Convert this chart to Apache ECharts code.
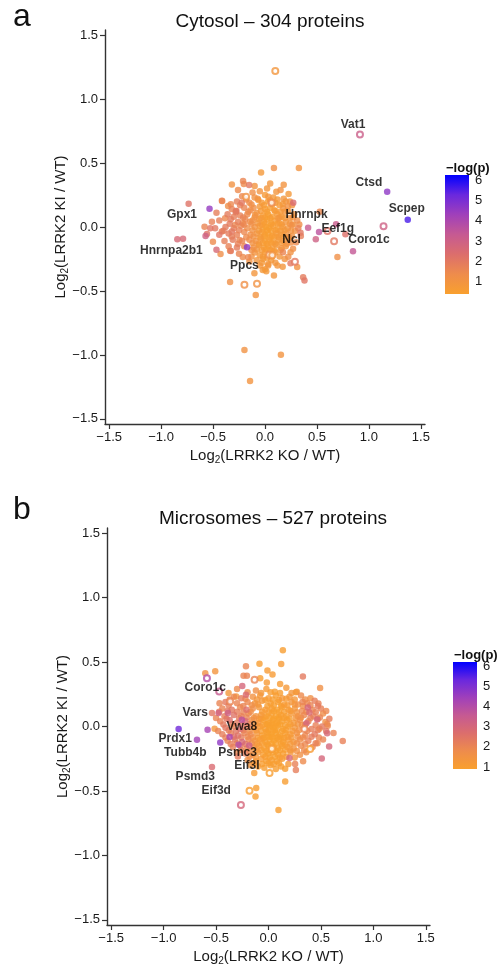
<!DOCTYPE html>
<html><head><meta charset="utf-8">
<script src="https://cdn.jsdelivr.net/npm/echarts@6/dist/echarts.min.js"></script>
<style>html,body{margin:0;padding:0;background:#fff}#c{width:501px;height:969px}</style>
</head><body><div id="c"></div>
<script>
// ---- data: [log2(KO/WT), log2(KI/WT), -log(p)] ----
const cytoFilled = [
[1.176,0.276,4.6],[1.374,0.057,5.6],[0.847,-0.19,3.4],[0.684,0.021,3.2],[0.774,-0.057,2.3],[0.52,-0.039,3.6],[0.489,-0.096,3.0],[0.697,-0.234,1.2],[0.415,-0.005,3.3],[0.342,-0.044,2.0],[0.527,0.12,1.5],[0.272,0.19,2.5],
[-0.534,0.143,4.5],[-0.735,0.182,2.2],[-0.844,-0.096,2.6],[-0.789,-0.091,2.6],[-0.173,-0.159,4.6],[-0.467,-0.177,2.6],[-0.428,-0.211,1.3],[-0.336,-0.43,1.2],[-0.089,-0.531,1.0],[-0.102,-0.362,0.9],[0.012,-0.346,0.8],[0.086,-0.38,0.9],[0.17,-0.31,0.9],[0.31,-0.313,1.1],[0.367,-0.393,1.9],[0.38,-0.419,2.1],[0.246,-0.284,2.0],[0.246,-0.198,1.1],
[-0.038,0.427,0.8],[0.086,0.461,1.2],[0.326,0.461,1.0],[-0.319,0.333,1.1],[-0.211,0.359,1.6],[-0.204,0.336,1.4],[-0.153,0.328,2.0],[0.109,0.276,0.9],[0.227,0.258,0.8],[-0.412,0.203,1.5],[-0.355,0.164,1.3],[-0.275,0.125,2.0],[-0.467,0.112,1.8],[-0.527,-0.01,2.1],[-0.572,-0.07,3.0],[-0.329,-0.188,2.0],[-0.214,-0.234,1.4],[-0.163,-0.237,1.5],[0.173,-0.198,1.6],
[-0.198,-0.961,1.1],[0.153,-0.998,1.0],[-0.144,-1.203,1.0],
[-0.415,0.206,1.6],[-0.329,0.177,1.5],[-0.224,0.19,2.0],[-0.281,0.115,1.9],[-0.16,0.12,1.4],[-0.384,0.068,1.5],[-0.511,0.041,1.7],[-0.582,0.002,1.6],[-0.559,-0.055,2.2],[-0.501,-0.115,1.4],[-0.336,-0.185,1.3],[-0.246,-0.102,1.6],[-0.415,-0.036,1.7],[-0.319,-0.036,2.0],[-0.288,0.016,1.5],[-0.214,0.029,1.4],[-0.144,0.041,1.3],[-0.096,0.094,1.0],[0.032,0.237,0.9],[-0.064,0.211,0.8],[0.176,0.146,0.9],[0.128,0.068,0.9],[0.256,0.016,1.2],[0.32,-0.01,1.6],[0.345,-0.07,1.8],[0.249,-0.122,1.2],[0.16,-0.167,1.0],[0.224,-0.232,1.3],[0.032,-0.289,0.9],[-0.022,-0.336,0.8]
];
const cytoCore = [
[-0.05,0.28,1.0],[0.02,0.3,0.9],[0.15,0.29,1.1],[-0.12,0.27,1.2],[-0.1,0.32,1.0],[0.05,0.34,0.9],[0.18,0.33,1.0],[-0.26,0.29,1.4],
[-0.22,0.24,1.5],[-0.1,0.23,1.1],[0.0,0.25,0.7],[0.08,0.23,0.8],[0.18,0.22,0.9],[0.24,0.2,1.0],
[-0.27,0.2,1.8],[-0.15,0.19,1.3],[-0.03,0.19,0.7],[0.03,0.2,0.6],[0.1,0.19,0.8],[0.14,0.17,0.7],[0.22,0.16,1.1],
[-0.32,0.14,1.7],[-0.2,0.15,1.6],[-0.11,0.15,1.2],[-0.05,0.16,0.8],[0.0,0.14,0.6],[0.05,0.15,0.5],[0.09,0.13,0.7],[0.19,0.12,0.9],[0.28,0.1,1.0],
[-0.36,0.1,1.9],[-0.24,0.09,1.7],[-0.17,0.1,1.4],[-0.08,0.11,1.0],[-0.02,0.09,0.6],[0.03,0.1,0.5],[0.07,0.08,0.6],[0.12,0.1,0.7],[0.16,0.08,0.8],[0.24,0.07,1.0],[0.31,0.05,1.3],
[-0.44,0.05,1.8],[-0.33,0.06,1.9],[-0.26,0.04,1.8],[-0.19,0.06,1.5],[-0.12,0.05,1.1],[-0.06,0.06,0.8],[-0.01,0.04,0.6],[0.02,0.06,0.5],[0.06,0.03,0.5],[0.1,0.05,0.6],[0.14,0.03,0.7],[0.2,0.04,0.9],[0.27,0.02,1.0],
[-0.48,-0.01,2.0],[-0.38,0.0,1.9],[-0.3,-0.01,1.8],[-0.23,0.01,1.6],[-0.17,-0.01,1.3],[-0.1,0.0,1.0],[-0.05,0.01,0.7],[-0.02,-0.02,0.5],[0.01,0.0,0.4],[0.04,-0.01,0.5],[0.08,0.01,0.6],[0.12,-0.02,0.6],[0.17,0.0,0.8],[0.22,-0.01,0.9],[0.29,-0.03,1.1],
[-0.44,-0.06,2.1],[-0.35,-0.05,1.9],[-0.27,-0.06,1.7],[-0.2,-0.04,1.5],[-0.14,-0.06,1.2],[-0.08,-0.05,0.9],[-0.03,-0.04,0.6],[0.0,-0.06,0.5],[0.03,-0.05,0.5],[0.07,-0.07,0.6],[0.11,-0.05,0.7],[0.15,-0.06,0.8],[0.2,-0.05,0.9],[0.26,-0.07,1.1],
[-0.39,-0.11,1.8],[-0.31,-0.1,1.9],[-0.22,-0.11,1.6],[-0.15,-0.1,1.3],[-0.09,-0.11,1.0],[-0.04,-0.09,0.7],[0.0,-0.11,0.5],[0.04,-0.1,0.6],[0.08,-0.12,0.6],[0.13,-0.1,0.8],[0.18,-0.11,0.9],[0.23,-0.09,1.0],[0.3,-0.12,1.4],
[-0.35,-0.15,1.7],[-0.27,-0.16,1.9],[-0.2,-0.15,1.5],[-0.11,-0.16,1.1],[-0.06,-0.14,0.8],[-0.01,-0.16,0.6],[0.03,-0.15,0.6],[0.07,-0.17,0.7],[0.11,-0.14,0.8],[0.2,-0.15,1.0],[0.27,-0.17,1.2],
[-0.25,-0.21,1.6],[-0.1,-0.2,1.0],[-0.05,-0.22,0.8],[0.0,-0.2,0.7],[0.04,-0.21,0.7],[0.1,-0.2,0.8],[0.14,-0.23,0.9],
[-0.15,-0.27,1.1],[-0.08,-0.26,0.9],[-0.02,-0.25,0.8],[0.06,-0.26,0.8],[0.1,-0.28,0.9],[0.19,-0.25,1.0],[0.12,-0.3,0.9],[-0.05,-0.3,0.9],
[0.0,-0.33,0.8],[0.03,-0.3,0.9],[-0.03,-0.28,0.8]
];
const cytoCore2 = [
[-0.18,0.215,1.4],[-0.07,0.22,1.0],[0.05,0.21,0.7],[0.12,0.215,0.8],[0.2,0.2,0.9],
[-0.24,0.17,1.7],[-0.13,0.175,1.2],[-0.01,0.17,0.6],[0.07,0.175,0.6],[0.17,0.18,0.8],[0.26,0.17,1.0],
[-0.28,0.125,1.8],[-0.14,0.13,1.3],[-0.04,0.125,0.7],[0.02,0.12,0.5],[0.1,0.125,0.6],[0.15,0.12,0.7],[0.22,0.125,0.9],
[-0.3,0.08,1.8],[-0.21,0.075,1.6],[-0.1,0.075,1.1],[-0.04,0.07,0.7],[0.0,0.075,0.5],[0.05,0.07,0.5],[0.14,0.075,0.7],[0.19,0.07,0.8],[0.27,0.075,1.0],
[-0.34,0.025,1.9],[-0.2,0.02,1.5],[-0.13,0.025,1.2],[-0.07,0.03,0.9],[-0.03,0.02,0.6],[0.0,0.025,0.5],[0.06,0.02,0.5],[0.12,0.025,0.6],[0.16,0.02,0.7],[0.24,0.025,0.9],[0.33,0.02,1.3],
[-0.4,-0.03,1.9],[-0.25,-0.025,1.7],[-0.12,-0.025,1.1],[-0.06,-0.03,0.8],[0.02,-0.025,0.5],[0.06,-0.03,0.5],[0.1,-0.025,0.6],[0.15,-0.03,0.7],[0.19,-0.025,0.8],[0.25,-0.03,1.0],
[-0.32,-0.075,1.8],[-0.18,-0.08,1.4],[-0.11,-0.075,1.1],[-0.05,-0.08,0.8],[-0.01,-0.075,0.5],[0.05,-0.08,0.5],[0.09,-0.075,0.6],[0.13,-0.08,0.7],[0.18,-0.075,0.8],[0.23,-0.08,1.0],
[-0.26,-0.13,1.7],[-0.12,-0.125,1.1],[-0.06,-0.13,0.8],[-0.02,-0.125,0.6],[0.02,-0.13,0.5],[0.06,-0.125,0.6],[0.1,-0.13,0.7],[0.16,-0.125,0.8],[0.21,-0.13,1.0],
[-0.13,-0.18,1.2],[-0.08,-0.175,0.9],[-0.03,-0.18,0.7],[0.01,-0.175,0.6],[0.05,-0.18,0.6],[0.09,-0.185,0.7],[0.15,-0.18,0.9],
[-0.13,-0.23,1.1],[-0.02,-0.23,0.7],[0.02,-0.24,0.7],[0.07,-0.23,0.8]
];
const cytoOpen = [
[0.099,1.219,0.9],[0.914,0.724,3.1],[1.141,0.005,3.0],[0.601,-0.031,2.2],[0.665,-0.112,2.0],[-0.198,-0.451,1.2],[-0.077,-0.443,1.1],[0.288,-0.271,2.0],[0.041,-0.216,1.2],[-0.182,0.237,1.1],[0.064,0.19,1.4],[0.07,-0.22,1.0]
];
const cytoLabels = [
['Vat1',0.847,0.797],['Ctsd',1.0,0.349],['Scpep',1.365,0.146],['Coro1c',1.0,-0.096],['Eef1g',0.7,-0.01],['Hnrnpk',0.4,0.099],['Ncl',0.256,-0.096],['Gpx1',-0.799,0.094],['Hnrnpa2b1',-0.901,-0.185],['Ppcs',-0.198,-0.302]
];

const microFilled = [
[0.137,0.592,1.0],[0.121,0.484,1.1],[-0.086,0.486,1.0],[-0.215,0.468,2.0],[-0.01,0.434,1.1],[0.038,0.403,1.1],[-0.508,0.429,1.4],[-0.603,0.414,1.6],[-0.238,0.393,2.0],[-0.206,0.393,2.0],[0.328,0.388,2.3],[-0.079,0.375,1.0],[-0.016,0.341,1.1],[0.111,0.329,1.1],[0.492,0.298,1.6],[-0.25,0.315,3.0],[-0.381,0.259,1.3],[-0.308,0.233,1.4],[-0.215,0.246,2.8],[-0.467,0.181,2.0],[-0.476,0.104,3.2],[-0.539,0.104,2.4],[-0.387,0.104,3.3],
[-0.857,-0.02,5.2],[-0.682,-0.103,4.4],[-0.581,-0.026,4.3],[-0.514,-0.018,1.3],[-0.46,-0.124,4.7],[-0.539,-0.315,2.8],[-0.286,-0.142,4.0],[-0.254,0.052,3.8],[-0.371,-0.082,4.2],[-0.184,-0.147,3.3],[-0.292,-0.233,2.3],
[-0.117,-0.478,1.0],[-0.124,-0.543,1.0],[-0.136,-0.361,1.1],[0.159,-0.426,1.0],[0.095,-0.648,1.0],
[0.261,0.266,1.1],[0.476,0.178,2.1],[0.324,0.191,2.0],[0.375,0.147,3.0],[0.39,0.109,2.8],[0.464,0.054,3.0],[0.543,0.034,1.6],[0.565,0.005,1.9],[0.486,-0.018,1.6],[0.559,-0.052,2.9],[0.708,-0.113,2.1],[0.578,-0.155,3.0],[0.467,-0.129,1.8],[0.508,-0.248,3.0],[0.2,-0.245,3.0],[0.254,-0.291,2.1],[0.261,-0.338,2.2],[0.159,-0.328,1.0],[0.362,0.026,3.0]
];
const microCore = [
[-0.12,0.28,1.6],[-0.02,0.29,1.1],[0.06,0.27,1.0],[0.17,0.3,1.2],[0.22,0.26,1.3],[-0.3,0.29,1.8],
[-0.33,0.23,1.9],[-0.26,0.22,2.2],[-0.15,0.23,1.5],[-0.08,0.24,1.3],[0.0,0.22,1.1],[0.07,0.24,1.0],[0.13,0.22,1.2],[0.2,0.23,1.3],[0.31,0.24,1.8],[0.4,0.22,1.6],
[-0.41,0.19,2.3],[-0.3,0.18,2.0],[-0.2,0.19,1.9],[-0.13,0.18,1.4],[-0.06,0.2,1.2],[0.02,0.18,1.0],[0.09,0.19,1.0],[0.15,0.17,1.1],[0.22,0.19,1.3],[0.28,0.17,1.5],[0.37,0.18,1.9],[0.44,0.2,2.2],
[-0.44,0.14,2.0],[-0.35,0.13,2.4],[-0.27,0.15,1.9],[-0.21,0.13,2.6],[-0.15,0.14,1.7],[-0.09,0.15,1.3],[-0.03,0.13,1.1],[0.03,0.14,1.0],[0.08,0.13,0.95],[0.13,0.15,1.0],[0.19,0.13,1.1],[0.25,0.14,1.3],[0.32,0.12,1.8],[0.42,0.13,2.0],[0.5,0.14,2.1],
[-0.42,0.08,2.2],[-0.33,0.09,2.5],[-0.26,0.08,2.1],[-0.19,0.1,1.8],[-0.12,0.08,1.4],[-0.07,0.09,1.2],[-0.02,0.08,1.0],[0.03,0.1,0.95],[0.07,0.08,0.9],[0.12,0.09,1.0],[0.17,0.08,1.0],[0.22,0.1,1.2],[0.28,0.08,1.5],[0.34,0.09,1.9],[0.43,0.08,2.2],[0.52,0.1,1.7],
[-0.46,0.04,2.1],[-0.37,0.05,2.6],[-0.3,0.03,2.3],[-0.22,0.04,2.8],[-0.16,0.05,1.6],[-0.1,0.03,1.3],[-0.05,0.05,1.0],[0.0,0.03,0.95],[0.04,0.05,0.9],[0.08,0.03,0.9],[0.13,0.04,0.95],[0.18,0.05,1.0],[0.24,0.03,1.2],[0.3,0.05,1.6],[0.38,0.04,2.0],[0.47,0.06,1.9],
[-0.41,-0.01,2.4],[-0.33,0.0,2.0],[-0.27,-0.02,2.7],[-0.2,0.0,2.2],[-0.14,-0.01,1.5],[-0.08,0.0,1.1],[-0.03,-0.02,1.0],[0.01,0.0,0.9],[0.05,-0.01,0.9],[0.09,0.01,0.9],[0.14,-0.02,0.95],[0.19,0.0,1.0],[0.25,-0.01,1.3],[0.32,0.01,1.7],[0.41,-0.02,2.2],[0.51,0.0,2.3],
[-0.44,-0.06,2.2],[-0.36,-0.05,2.1],[-0.29,-0.07,2.5],[-0.23,-0.05,2.0],[-0.17,-0.06,1.8],[-0.11,-0.05,1.3],[-0.06,-0.07,1.0],[-0.01,-0.05,0.95],[0.03,-0.06,0.9],[0.07,-0.05,0.9],[0.11,-0.07,0.95],[0.16,-0.05,1.0],[0.21,-0.06,1.1],[0.27,-0.05,1.5],[0.35,-0.07,1.9],[0.44,-0.06,2.3],[0.62,-0.05,2.0],
[-0.39,-0.11,2.0],[-0.32,-0.1,2.3],[-0.25,-0.12,2.9],[-0.19,-0.1,1.9],[-0.13,-0.11,1.3],[-0.08,-0.1,1.1],[-0.03,-0.12,1.0],[0.01,-0.1,0.9],[0.05,-0.11,0.9],[0.1,-0.1,0.95],[0.14,-0.12,1.0],[0.19,-0.1,1.1],[0.24,-0.12,1.3],[0.3,-0.1,1.7],[0.38,-0.11,2.1],[0.52,-0.1,2.0],
[-0.34,-0.16,2.1],[-0.27,-0.15,2.4],[-0.21,-0.17,1.8],[-0.14,-0.16,1.4],[-0.09,-0.15,1.1],[-0.04,-0.17,1.0],[0.0,-0.15,0.95],[0.05,-0.16,0.9],[0.09,-0.17,0.95],[0.13,-0.15,1.0],[0.18,-0.16,1.1],[0.24,-0.17,1.4],[0.31,-0.15,1.8],[0.42,-0.16,2.0],
[-0.3,-0.2,1.9],[-0.22,-0.21,2.2],[-0.15,-0.22,1.5],[-0.1,-0.2,1.2],[-0.05,-0.22,1.0],[0.0,-0.21,0.95],[0.04,-0.2,0.95],[0.09,-0.22,1.0],[0.14,-0.21,1.0],[0.21,-0.2,1.3],[0.3,-0.22,1.6],[0.36,-0.2,1.7],
[-0.2,-0.26,1.6],[-0.12,-0.27,1.2],[-0.07,-0.25,1.1],[-0.02,-0.27,1.0],[0.03,-0.26,1.0],[0.08,-0.27,1.0],[0.13,-0.25,1.1],[0.33,-0.27,1.8],
[-0.1,-0.31,1.1],[-0.04,-0.32,1.0],[0.02,-0.3,1.0],[0.07,-0.33,1.0],[0.12,-0.31,1.0],[-0.17,-0.3,1.4],
[0.0,-0.03,0.9],[0.02,-0.08,0.9],[-0.02,0.02,0.9],[0.06,-0.03,0.9],[0.03,0.02,0.9],[-0.05,-0.09,0.95],[0.08,-0.09,0.9],[0.1,0.06,0.9],[-0.07,0.06,1.0],[0.15,-0.09,1.0]
];
const microCore2 = [
[-0.2,0.265,1.8],[-0.07,0.26,1.2],[0.02,0.265,1.0],[0.11,0.26,1.0],[0.27,0.27,1.3],
[-0.37,0.21,2.0],[-0.22,0.215,1.9],[-0.11,0.21,1.3],[-0.03,0.205,1.0],[0.04,0.21,0.95],[0.1,0.205,1.0],[0.17,0.215,1.1],[0.25,0.21,1.3],[0.35,0.21,1.7],
[-0.38,0.165,2.2],[-0.24,0.16,2.0],[-0.16,0.165,1.6],[-0.1,0.17,1.3],[-0.01,0.16,1.0],[0.05,0.165,0.95],[0.12,0.16,0.95],[0.18,0.165,1.1],[0.25,0.17,1.3],[0.33,0.16,1.7],[0.4,0.165,2.0],[0.47,0.16,2.3],
[-0.47,0.115,2.1],[-0.39,0.12,2.3],[-0.3,0.115,2.2],[-0.24,0.11,2.0],[-0.17,0.115,1.6],[-0.06,0.115,1.1],[0.0,0.11,1.0],[0.05,0.12,0.9],[0.1,0.11,0.9],[0.15,0.115,1.0],[0.21,0.12,1.1],[0.27,0.11,1.4],[0.36,0.115,1.9],[0.45,0.11,2.1],[0.55,0.12,1.9],
[-0.5,0.065,2.0],[-0.4,0.06,2.4],[-0.28,0.065,2.2],[-0.21,0.07,2.0],[-0.14,0.065,1.5],[-0.09,0.06,1.2],[-0.04,0.07,1.0],[0.01,0.065,0.9],[0.05,0.06,0.9],[0.1,0.07,0.9],[0.15,0.065,0.95],[0.2,0.06,1.0],[0.26,0.065,1.3],[0.31,0.07,1.6],[0.4,0.065,2.1],[0.49,0.07,2.0],[0.58,0.06,2.2],
[-0.43,0.015,2.3],[-0.35,0.02,2.1],[-0.25,0.015,2.4],[-0.18,0.02,1.9],[-0.12,0.015,1.3],[-0.06,0.01,1.0],[-0.01,0.015,0.9],[0.03,0.01,0.9],[0.07,0.02,0.9],[0.11,0.015,0.9],[0.16,0.01,0.95],[0.21,0.015,1.0],[0.28,0.02,1.4],[0.35,0.015,1.9],[0.45,0.01,2.1],[0.56,0.02,1.8],
[-0.48,-0.035,2.0],[-0.38,-0.03,2.2],[-0.31,-0.035,2.4],[-0.24,-0.03,2.1],[-0.18,-0.035,1.7],[-0.12,-0.03,1.2],[-0.07,-0.035,1.0],[-0.02,-0.04,0.9],[0.04,-0.035,0.9],[0.08,-0.03,0.9],[0.13,-0.035,0.9],[0.17,-0.03,1.0],[0.23,-0.035,1.2],[0.29,-0.03,1.5],[0.37,-0.035,2.0],[0.47,-0.03,2.2],[0.55,-0.035,2.4],
[-0.41,-0.085,2.1],[-0.33,-0.08,2.6],[-0.26,-0.085,2.2],[-0.2,-0.08,1.9],[-0.15,-0.085,1.5],[-0.1,-0.09,1.1],[-0.04,-0.085,0.95],[0.0,-0.08,0.9],[0.04,-0.085,0.9],[0.09,-0.08,0.9],[0.12,-0.085,0.9],[0.18,-0.08,1.0],[0.22,-0.085,1.2],[0.28,-0.08,1.5],[0.33,-0.085,1.8],[0.41,-0.08,2.2],[0.48,-0.085,2.0],
[-0.36,-0.135,2.2],[-0.3,-0.13,2.0],[-0.22,-0.135,2.4],[-0.16,-0.13,1.7],[-0.11,-0.135,1.2],[-0.06,-0.13,1.0],[-0.01,-0.14,0.9],[0.03,-0.135,0.9],[0.07,-0.13,0.9],[0.12,-0.135,0.95],[0.16,-0.14,1.0],[0.21,-0.135,1.2],[0.27,-0.13,1.5],[0.35,-0.135,1.9],[0.45,-0.13,2.1],
[-0.26,-0.185,2.0],[-0.18,-0.19,1.7],[-0.12,-0.185,1.3],[-0.07,-0.18,1.0],[-0.02,-0.19,0.95],[0.02,-0.185,0.9],[0.07,-0.19,0.9],[0.11,-0.185,0.95],[0.16,-0.18,1.0],[0.21,-0.185,1.2],[0.27,-0.19,1.5],[0.34,-0.185,1.8],
[-0.18,-0.235,1.7],[-0.12,-0.24,1.3],[-0.03,-0.235,1.0],[0.01,-0.24,0.95],[0.06,-0.235,0.95],[0.11,-0.24,1.0],[0.17,-0.235,1.1],[0.25,-0.24,1.4],
[-0.14,-0.285,1.3],[-0.06,-0.29,1.0],[0.0,-0.285,1.0],[0.05,-0.29,1.0],[0.1,-0.285,1.0],[0.19,-0.29,1.2]
];
const microOpen = [
[-0.587,0.375,4.0],[-0.133,0.362,2.0],[-0.47,0.271,3.5],[-0.365,0.194,2.0],[-0.181,-0.498,1.0],[0.01,-0.361,1.0],[-0.263,-0.609,3.0],[0.397,-0.175,1.1],[0.343,-0.02,2.0],[0.032,-0.173,1.1]
];
const microLabels = [
['Coro1c',-0.603,0.302],['Vars',-0.698,0.104],['Prdx1',-0.889,-0.098],['Tubb4b',-0.793,-0.2],['Vwa8',-0.254,0.0],['Psmc3',-0.295,-0.202],['Eif3l',-0.206,-0.305],['Psmd3',-0.698,-0.388],['Eif3d',-0.498,-0.496]
];

const axisTicks = [-1.5,-1.0,-0.5,0.0,0.5,1.0,1.5];
const cbarTicks = [1,2,3,4,5,6];
const cytoRange = [0.4, 6.25];
const microRange = [0.9, 6.2];
const cmap = ['#F9A02E','#EE8C4C','#DC6E6C','#C65A92','#A040BA','#6A28DE','#0000FF'];

// ---- build ----
const FONT = 'Liberation Sans, Arial, Helvetica, sans-serif';
const byP = (a,b)=>a[2]-b[2];
const cytoAll = cytoFilled.concat(cytoCore, cytoCore2).sort(byP);
const microAll = microFilled.concat(microCore, microCore2).sort(byP);

const fmt = v => (v<0?'\u2212':'') + Math.abs(v).toFixed(1);
const nameRich = {a:{fontSize:15,fontFamily:FONT,color:'#1a1a1a'},s:{fontSize:10,fontFamily:FONT,color:'#1a1a1a',padding:[8,0,0,0]}};
function mainX(grid, nameStr){
  return {gridIndex:grid,type:'value',min:-1.54,max:1.54,
    axisLine:{onZero:false,lineStyle:{color:'#333',width:1.4}},
    axisTick:{customValues:axisTicks,length:5,lineStyle:{color:'#333',width:1.2}},
    axisLabel:{customValues:axisTicks,formatter:fmt,color:'#1a1a1a',fontSize:13,fontFamily:FONT,margin:7},
    splitLine:{show:false},
    name:nameStr,nameLocation:'middle',nameGap:23,nameMoveOverlap:false,
    nameTextStyle:{color:'#1a1a1a',fontFamily:FONT,rich:nameRich}
  };
}
function mainY(grid, nameStr){
  return {gridIndex:grid,type:'value',min:-1.54,max:1.54,
    axisLine:{onZero:false,lineStyle:{color:'#333',width:1.4}},
    axisTick:{customValues:axisTicks,length:5,lineStyle:{color:'#333',width:1.2}},
    axisLabel:{customValues:axisTicks,formatter:fmt,color:'#1a1a1a',fontSize:13,fontFamily:FONT,margin:7},
    splitLine:{show:false},
    name:nameStr,nameLocation:'middle',nameGap:35,nameRotate:90,nameMoveOverlap:false,
    nameTextStyle:{color:'#1a1a1a',fontFamily:FONT,rich:nameRich}
  };
}
function cbarY(grid, range, right){
  return {gridIndex:grid,type:'value',min:range[0],max:range[1],position:right?'right':'left',
    axisLine:{show:false},
    axisTick:{show:true,inside:true,customValues:cbarTicks,length:4,lineStyle:{color:'rgba(255,255,255,0.85)',width:1}},
    axisLabel:{show:right,customValues:cbarTicks,color:'#1a1a1a',fontSize:13,fontFamily:FONT,margin:6},
    splitLine:{show:false}};
}
const grad = () => new echarts.graphic.LinearGradient(0,1,0,0, cmap.map((c,i)=>({offset:i/(cmap.length-1),color:c})));
function cbarSeries(xi, yi, range){
  return {type:'scatter',xAxisIndex:xi,yAxisIndex:yi,data:[[0.5,(range[0]+range[1])/2]],symbolSize:0,silent:true,
    itemStyle:{opacity:0},
    markArea:{silent:true,itemStyle:{color:grad()},data:[[{coord:[0,range[0]]},{coord:[1,range[1]]}]]}};
}
function labelSeries(xi, yi, labels){
  return {type:'scatter',xAxisIndex:xi,yAxisIndex:yi,symbolSize:1,itemStyle:{color:'rgba(0,0,0,0)'},z:10,silent:true,
    data:labels.map(l=>({name:l[0],value:[l[1],l[2]]})),
    label:{show:true,position:'inside',formatter:p=>p.name,fontFamily:FONT,fontWeight:'bold',fontSize:12,color:'#000'}};
}
const xName = '{a|Log}{s|2}{a|(LRRK2 KO / WT)}';
const yName = '{a|Log}{s|2}{a|(LRRK2 KI / WT)}';

const option = {
  animation:false,
  backgroundColor:'#fff',
  title:[
    {text:'a',left:8,top:-4,textStyle:{fontSize:32,fontWeight:'normal',fontFamily:FONT,color:'#111'}},
    {text:'Cytosol \u2013 304 proteins',left:265,top:7,textAlign:'center',textStyle:{fontSize:19,fontWeight:'normal',fontFamily:FONT,color:'#111'}},
    {text:'b',left:8,top:489,textStyle:{fontSize:32,fontWeight:'normal',fontFamily:FONT,color:'#111'}},
    {text:'Microsomes \u2013 527 proteins',left:268,top:504,textAlign:'center',textStyle:{fontSize:19,fontWeight:'normal',fontFamily:FONT,color:'#111'}},
    {text:'\u2212log(p)',left:441,top:157,textStyle:{fontSize:13,fontWeight:'bold',fontFamily:FONT,color:'#111'}},
    {text:'\u2212log(p)',left:449,top:644,textStyle:{fontSize:13,fontWeight:'bold',fontFamily:FONT,color:'#111'}}
  ],
  grid:[
    {left:105,top:30,width:320,height:394},
    {left:107,top:528,width:323,height:397},
    {left:445,top:175,width:24,height:119},
    {left:453,top:662,width:24,height:107}
  ],
  xAxis:[
    mainX(0,xName), mainX(1,xName),
    {gridIndex:2,type:'value',min:0,max:1,show:false},
    {gridIndex:3,type:'value',min:0,max:1,show:false}
  ],
  yAxis:[
    mainY(0,yName), mainY(1,yName),
    cbarY(2,cytoRange,true), cbarY(2,cytoRange,false),
    cbarY(3,microRange,true), cbarY(3,microRange,false)
  ],
  visualMap:[
    {type:'continuous',show:false,seriesIndex:[0,1],dimension:2,min:cytoRange[0],max:cytoRange[1],inRange:{color:cmap}},
    {type:'continuous',show:false,seriesIndex:[3,4],dimension:2,min:microRange[0],max:microRange[1],inRange:{color:cmap}}
  ],
  series:[
    {type:'scatter',xAxisIndex:0,yAxisIndex:0,data:cytoAll,symbol:'circle',symbolSize:6.5,silent:true},
    {type:'scatter',xAxisIndex:0,yAxisIndex:0,data:cytoOpen,symbol:'emptyCircle',symbolSize:6,itemStyle:{borderWidth:1.1},silent:true,z:3},
    labelSeries(0,0,cytoLabels),
    {type:'scatter',xAxisIndex:1,yAxisIndex:1,data:microAll,symbol:'circle',symbolSize:6.5,silent:true},
    {type:'scatter',xAxisIndex:1,yAxisIndex:1,data:microOpen,symbol:'emptyCircle',symbolSize:6,itemStyle:{borderWidth:1.1},silent:true,z:3},
    labelSeries(1,1,microLabels),
    cbarSeries(2,2,cytoRange),
    cbarSeries(3,4,microRange)
  ]
};
const chart = echarts.init(document.getElementById('c'),null,{renderer:'canvas'});
chart.setOption(option);
</script></body></html>
